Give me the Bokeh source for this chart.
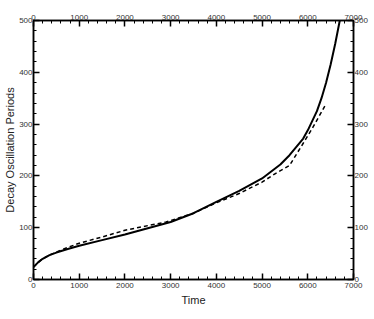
from bokeh.plotting import figure
from bokeh.models import LinearAxis, Range1d, FixedTicker
from bokeh.embed import file_html
from bokeh.resources import INLINE

# Solid curve
time_solid = [0, 100, 200, 350, 500, 750, 1000, 1500, 2000, 2500, 3000, 3500, 4000,
              4500, 5000, 5400, 5600, 5900, 6000, 6200, 6300, 6400, 6500, 6600, 6700]
periods_solid = [24, 33, 40, 47, 52, 59, 65, 76, 87, 99, 111, 128, 150,
                 171, 195, 222, 240, 272, 288, 325, 350, 380, 415, 455, 500]

# Dashed curve
time_dashed = [0, 100, 200, 350, 500, 750, 1000, 1500, 2000, 2500, 2900, 3500, 4000,
               4500, 5000, 5300, 5600, 5900, 6100, 6380]
periods_dashed = [24, 33, 40, 47, 53, 62, 70, 82, 95, 104, 111, 128, 148,
                  166, 188, 205, 220, 263, 292, 336]

x_ticks = [0, 1000, 2000, 3000, 4000, 5000, 6000, 7000]
y_ticks = [0, 100, 200, 300, 400, 500]

p = figure(width=370, height=311, x_range=Range1d(0, 7000), y_range=Range1d(0, 500),
           output_backend="svg", toolbar_location=None,
           min_border_left=33, min_border_right=14, min_border_top=20, min_border_bottom=32)
p.grid.visible = False
p.outline_line_color = "black"
p.outline_line_width = 1.5
p.background_fill_color = "white"
p.border_fill_color = "white"

p.line(time_solid, periods_solid, line_color="black", line_width=2)
p.line(time_dashed, periods_dashed, line_color="black", line_width=1.5, line_dash="4 3")

p.add_layout(LinearAxis(), "above")
p.add_layout(LinearAxis(), "right")

x_minor = list(range(0, 7001, 200))
y_minor = list(range(0, 501, 20))

for ax in p.xaxis:
    ax.ticker = FixedTicker(ticks=x_ticks, minor_ticks=x_minor)
for ax in p.yaxis:
    ax.ticker = FixedTicker(ticks=y_ticks, minor_ticks=y_minor)

for ax in p.axis:
    ax.axis_line_color = "black"
    ax.axis_line_width = 1.5
    ax.major_tick_in = 6
    ax.major_tick_out = 0
    ax.minor_tick_in = 3
    ax.minor_tick_out = 0
    ax.major_tick_line_color = "black"
    ax.major_tick_line_width = 1.5
    ax.minor_tick_line_color = "black"
    ax.minor_tick_line_width = 1
    ax.major_label_text_font = "Liberation Sans"
    ax.major_label_text_font_size = "8px"
    ax.major_label_text_color = "#333333"
    ax.major_label_standoff = 1
    ax.axis_label_text_font = "Liberation Sans"
    ax.axis_label_text_font_size = "11px"
    ax.axis_label_text_font_style = "normal"
    ax.axis_label_text_color = "#222222"
    ax.axis_label_standoff = 3

p.below[0].axis_label = "Time"
p.below[0].major_label_standoff = 3
p.left[0].axis_label = "Decay Oscillation Periods"
p.left[0].axis_label_standoff = 0
p.left[0].major_label_orientation = "horizontal"

open("out.html", "w").write(file_html(p, INLINE))
